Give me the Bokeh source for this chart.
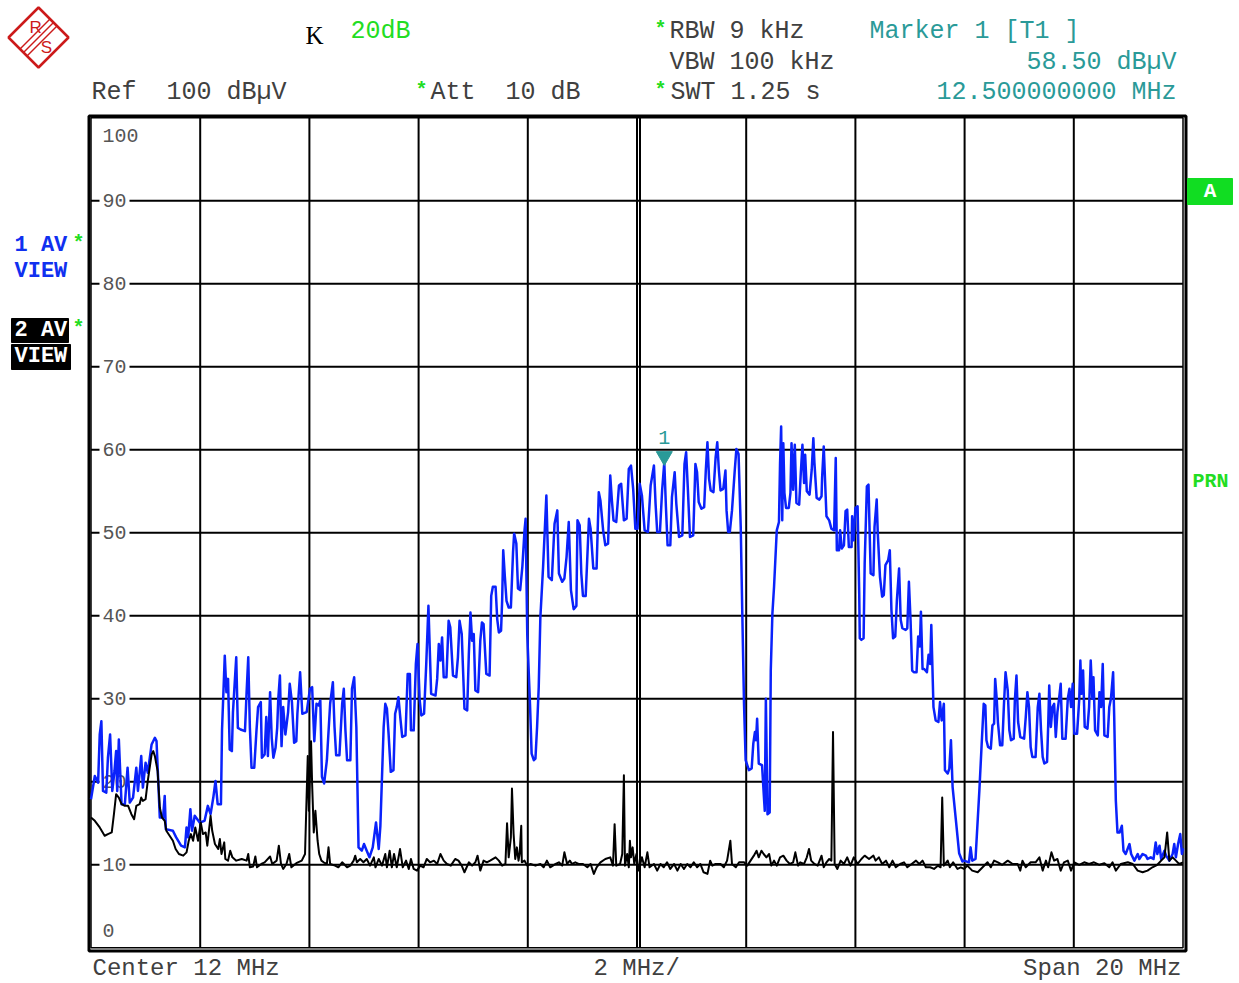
from bokeh.plotting import figure
from bokeh.models import Range1d
from bokeh.core.properties import value
from bokeh.embed import file_html
from bokeh.resources import INLINE

# ---------------- data ----------------
# Trace 1 (blue, AV view), frequency in MHz, level in dBuV
blue_freq_a = [2.00, 2.07, 2.13, 2.16, 2.19, 2.22, 2.28, 2.31, 2.35, 2.39,
               2.43, 2.46, 2.48, 2.51, 2.56, 2.62, 2.67, 2.71, 2.77, 2.83,
               2.86, 2.92, 2.95, 3.00, 3.04, 3.11, 3.17, 3.20, 3.26, 3.32,
               3.35, 3.37, 3.50, 3.56, 3.65, 3.72, 3.75, 3.78, 3.82, 3.85,
               3.90, 3.99, 4.08, 4.14, 4.19, 4.24, 4.28, 4.32, 4.38, 4.40,
               4.45, 4.48, 4.51, 4.54, 4.58, 4.60, 4.66, 4.69, 4.74, 4.82,
               4.85, 4.88, 4.91, 4.94, 4.99, 5.03, 5.06, 5.11, 5.13, 5.18,
               5.21, 5.24, 5.28, 5.31, 5.34, 5.38, 5.41, 5.43, 5.46, 5.49,
               5.52, 5.56, 5.61, 5.64, 5.68, 5.72, 5.76, 5.78, 5.83, 5.87,
               5.95, 6.01, 6.05, 6.09, 6.13, 6.17]
blue_level_a = [17.9, 20.7, 19.9, 25.7, 27.3, 18.9, 18.7, 22.9, 25.7, 18.9,
                21.3, 23.7, 18.9, 25.1, 17.3, 17.3, 21.7, 17.5, 18.1, 21.7,
                18.9, 23.1, 19.3, 22.3, 21.1, 24.5, 25.3, 24.9, 15.7, 15.7,
                18.3, 14.3, 14.1, 13.3, 12.3, 12.1, 14.5, 13.3, 16.7, 14.1,
                15.9, 15.1, 15.3, 17.1, 16.1, 18.1, 20.1, 17.3, 17.3, 26.3,
                35.2, 30.8, 32.4, 23.9, 23.7, 28.4, 35.0, 26.5, 26.3, 26.1,
                30.8, 35.0, 26.5, 21.7, 21.7, 26.1, 29.0, 29.6, 22.9, 23.3,
                27.8, 23.1, 30.8, 25.3, 22.9, 24.1, 26.5, 30.0, 32.8, 24.3,
                29.0, 25.7, 28.4, 31.8, 29.6, 24.7, 24.9, 28.2, 33.2, 28.2,
                28.4, 31.2, 31.4, 24.9, 29.4, 29.2]
blue_freq_b = [6.20, 6.23, 6.27, 6.32, 6.38, 6.43, 6.46, 6.49, 6.55, 6.60,
               6.63, 6.66, 6.69, 6.75, 6.78, 6.82, 6.86, 6.90, 6.96, 7.00,
               7.05, 7.10, 7.16, 7.22, 7.27, 7.30, 7.36, 7.39, 7.42, 7.45,
               7.49, 7.54, 7.57, 7.60, 7.63, 7.67, 7.70, 7.76, 7.80, 7.84,
               7.86, 7.91, 7.95, 7.98, 8.02, 8.05, 8.10, 8.14, 8.18, 8.23,
               8.31, 8.34, 8.37, 8.40, 8.43, 8.46, 8.51, 8.55, 8.58, 8.63,
               8.69, 8.72, 8.75, 8.79, 8.84, 8.89, 8.92, 8.95, 8.98, 9.01,
               9.04, 9.09, 9.13, 9.16, 9.19, 9.24, 9.30, 9.33, 9.36, 9.41,
               9.44, 9.47, 9.51, 9.53, 9.55, 9.58, 9.61, 9.65, 9.69, 9.73,
               9.75, 9.79, 9.82, 9.86, 9.90, 9.94, 9.96, 9.99, 10.04, 10.07,
               10.11, 10.14, 10.17, 10.20, 10.23]
blue_level_b = [29.8, 20.6, 19.8, 22.6, 29.4, 32.0, 26.6, 23.2, 23.2, 29.4,
                31.2, 26.2, 22.6, 22.6, 31.2, 32.6, 26.6, 12.1, 11.7, 12.5,
                11.7, 10.9, 12.1, 15.1, 11.9, 14.7, 26.6, 29.4, 28.8, 25.8,
                21.2, 21.4, 28.2, 29.0, 30.2, 27.4, 25.4, 25.6, 33.0, 33.0,
                26.2, 26.2, 34.2, 36.6, 29.8, 28.0, 28.2, 34.2, 41.2, 30.6,
                30.4, 32.4, 36.6, 34.6, 37.4, 32.6, 32.6, 39.4, 38.6, 32.8,
                32.6, 35.0, 39.4, 37.8, 28.8, 28.6, 35.4, 40.4, 37.0, 37.8,
                31.0, 30.8, 37.0, 39.2, 39.0, 33.0, 32.8, 42.4, 43.5, 43.5,
                39.6, 38.0, 38.2, 41.8, 47.9, 44.7, 41.8, 41.0, 41.0, 47.7,
                49.9, 48.7, 43.3, 43.1, 45.9, 50.3, 51.7, 37.8, 29.4, 23.4,
                22.6, 22.8, 26.6, 31.4, 39.8]
blue_freq_c = [10.28, 10.34, 10.38, 10.44, 10.49, 10.54, 10.57, 10.63, 10.67, 10.71,
               10.75, 10.79, 10.84, 10.89, 10.91, 10.95, 10.98, 11.01, 11.06, 11.12,
               11.15, 11.20, 11.26, 11.30, 11.33, 11.38, 11.42, 11.47, 11.51, 11.54,
               11.57, 11.62, 11.67, 11.71, 11.76, 11.81, 11.85, 11.89, 11.93, 11.97,
               12.01, 12.05, 12.09, 12.14, 12.20, 12.25, 12.31, 12.34, 12.37, 12.42,
               12.46, 12.50, 12.53, 12.56, 12.61, 12.64, 12.69, 12.72, 12.77, 12.83,
               12.87, 12.90, 12.93, 12.97, 13.03, 13.07, 13.10, 13.13, 13.18, 13.23,
               13.26, 13.29, 13.32, 13.35, 13.40, 13.44, 13.47, 13.50, 13.53, 13.58,
               13.62, 13.64, 13.67, 13.70, 13.74, 13.79, 13.82, 13.86, 13.90, 13.93,
               13.96]
blue_level_c = [45.9, 54.5, 44.7, 44.3, 51.1, 52.7, 45.1, 44.1, 44.5, 47.1,
                51.3, 43.1, 40.8, 41.2, 51.5, 50.9, 45.1, 42.4, 42.4, 51.7,
                50.5, 45.7, 45.7, 54.9, 53.9, 50.3, 48.5, 48.7, 56.9, 53.9,
                51.5, 51.3, 55.7, 55.9, 51.5, 51.7, 57.7, 58.1, 55.3, 50.5,
                50.5, 55.9, 54.5, 50.3, 50.1, 55.7, 58.1, 53.5, 50.1, 50.1,
                55.1, 58.5, 53.1, 48.5, 48.5, 54.3, 57.3, 53.5, 49.5, 49.7,
                58.3, 59.7, 55.5, 49.5, 49.7, 58.3, 57.3, 53.7, 52.9, 53.1,
                57.5, 60.9, 56.5, 55.1, 54.9, 59.1, 60.9, 57.5, 55.1, 55.3,
                57.5, 52.7, 50.1, 50.1, 52.7, 57.5, 60.1, 59.5, 50.7, 39.8,
                29.4]
blue_freq_d = [13.99, 14.05, 14.10, 14.13, 14.16, 14.18, 14.20, 14.23, 14.29, 14.34,
               14.36, 14.39, 14.43, 14.45, 14.48, 14.51, 14.56, 14.60, 14.62, 14.64,
               14.66, 14.68, 14.70, 14.73, 14.78, 14.81, 14.83, 14.86, 14.89, 14.92,
               14.97, 15.00, 15.03, 15.06, 15.08, 15.11, 15.16, 15.20, 15.23, 15.25,
               15.29, 15.34, 15.38, 15.39, 15.42, 15.47, 15.52, 15.56, 15.61, 15.64,
               15.66, 15.70, 15.72, 15.75, 15.79, 15.82, 15.85, 15.88, 15.93, 15.94,
               15.97, 16.00, 16.04, 16.07, 16.08, 16.11, 16.15, 16.17, 16.21, 16.24,
               16.26, 16.28, 16.33, 16.35, 16.39, 16.41, 16.45, 16.49, 16.52, 16.55,
               16.60, 16.63, 16.66, 16.69, 16.73, 16.76, 16.80, 16.83, 16.86, 16.92,
               16.95, 16.98, 17.01, 17.04, 17.07, 17.12, 17.15, 17.18, 17.20, 17.23,
               17.26, 17.31, 17.34, 17.37, 17.39, 17.43, 17.47, 17.52, 17.55, 17.58,
               17.62, 17.64, 17.69, 17.72, 17.75, 17.78, 17.84, 17.90, 17.96]
blue_level_d = [22.6, 21.4, 21.6, 24.6, 26.0, 25.0, 27.6, 22.2, 22.0, 16.5,
                30.0, 16.1, 16.3, 33.4, 40.3, 43.5, 50.3, 51.3, 58.4, 62.8,
                51.5, 60.8, 54.8, 53.0, 53.0, 54.8, 60.8, 55.2, 60.6, 53.6,
                53.4, 57.2, 60.6, 56.0, 59.4, 55.0, 54.6, 57.6, 61.4, 58.4,
                54.2, 54.0, 54.4, 56.6, 60.4, 52.0, 51.5, 50.5, 50.3, 59.0,
                47.9, 47.9, 50.3, 48.1, 48.5, 52.6, 52.8, 48.3, 48.3, 52.0,
                49.1, 53.0, 53.2, 42.7, 37.3, 37.1, 37.3, 46.3, 55.6, 55.8,
                50.3, 45.1, 44.9, 50.7, 54.0, 49.9, 44.7, 42.3, 42.5, 46.1,
                46.7, 47.9, 40.7, 37.3, 37.5, 41.9, 45.7, 39.5, 38.5, 38.3,
                38.5, 44.1, 39.5, 33.4, 33.2, 33.2, 37.5, 36.3, 40.5, 33.6,
                33.6, 33.2, 35.3, 34.2, 38.9, 29.0, 27.4, 27.2, 29.6, 27.4,
                29.4, 21.4, 21.0, 21.6, 25.0, 19.4, 15.4, 11.4, 10.4]
blue_freq_e = [17.99, 18.08, 18.11, 18.14, 18.20, 18.27, 18.31, 18.35, 18.38, 18.40,
               18.43, 18.48, 18.51, 18.54, 18.56, 18.59, 18.61, 18.65, 18.69, 18.72,
               18.75, 18.79, 18.82, 18.85, 18.90, 18.92, 18.95, 18.98, 19.02, 19.09,
               19.12, 19.15, 19.18, 19.21, 19.24, 19.30, 19.34, 19.37, 19.40, 19.43,
               19.46, 19.51, 19.53, 19.55, 19.58, 19.61, 19.64, 19.67, 19.70, 19.73,
               19.76, 19.79, 19.85, 19.89, 19.92, 19.95, 19.98, 20.01, 20.06, 20.10,
               20.12, 20.14, 20.17, 20.20, 20.25, 20.28, 20.31, 20.34, 20.36, 20.39,
               20.44, 20.47, 20.50, 20.53, 20.56, 20.62, 20.65, 20.68, 20.72, 20.74,
               20.77, 20.80, 20.84, 20.88, 20.91, 20.95, 21.02, 21.05, 21.11, 21.17,
               21.20, 21.26, 21.32, 21.35, 21.41, 21.46, 21.50, 21.53, 21.57, 21.60,
               21.66, 21.69, 21.75, 21.81, 21.84, 21.87, 21.91, 21.95, 21.98, 22.00]
blue_level_e = [10.5, 10.3, 12.1, 10.5, 10.7, 18.9, 24.2, 29.4, 29.2, 25.0,
                24.2, 24.0, 26.8, 27.0, 32.4, 29.8, 27.2, 24.4, 24.4, 29.2,
                33.2, 31.0, 26.2, 25.0, 25.2, 29.8, 32.8, 27.2, 25.4, 25.2,
                27.8, 30.8, 29.0, 24.2, 23.0, 23.0, 29.0, 30.6, 26.2, 23.0,
                22.2, 22.4, 26.6, 31.6, 26.6, 29.0, 29.4, 25.4, 28.4, 30.0,
                31.8, 25.2, 25.2, 30.0, 31.2, 29.0, 31.8, 25.8, 25.8, 30.0,
                34.6, 30.6, 33.4, 26.6, 26.4, 29.0, 34.6, 30.0, 32.6, 26.2,
                25.6, 30.8, 29.0, 34.2, 25.6, 25.4, 29.0, 30.0, 33.2, 27.8,
                17.7, 13.9, 13.9, 14.7, 11.7, 11.3, 12.5, 11.3, 10.5, 11.3,
                10.7, 11.3, 11.1, 10.7, 10.9, 10.7, 12.7, 11.3, 12.3, 10.7,
                11.7, 11.1, 10.5, 11.3, 12.5, 10.9, 12.5, 13.7, 11.3, 12.0]

# Trace 2 (black, AV view)
black_freq_a = [2.00, 2.07, 2.16, 2.25, 2.31, 2.38, 2.42, 2.46, 2.51, 2.56,
                2.62, 2.68, 2.74, 2.79, 2.83, 2.89, 2.92, 2.95, 3.00, 3.04,
                3.11, 3.14, 3.17, 3.22, 3.26, 3.30, 3.35, 3.38, 3.44, 3.50,
                3.55, 3.61, 3.69, 3.75, 3.79, 3.83, 3.87, 3.91, 3.96, 4.01,
                4.05, 4.10, 4.13, 4.19, 4.22, 4.27, 4.33, 4.36, 4.39, 4.44,
                4.46, 4.51, 4.55, 4.59, 4.66, 4.76, 4.85, 4.88, 4.91, 4.97,
                5.01, 5.04, 5.12, 5.18, 5.28, 5.32, 5.40, 5.44, 5.48, 5.52,
                5.58, 5.63, 5.67, 5.76, 5.86, 5.92, 5.95, 5.97, 5.99, 6.03,
                6.05, 6.08, 6.11, 6.15, 6.18, 6.22]
black_level_a = [15.7, 15.3, 14.5, 13.5, 13.7, 13.9, 16.1, 18.5, 18.1, 17.3,
                 17.1, 17.1, 16.1, 15.5, 17.1, 17.3, 18.1, 17.7, 17.9, 20.1,
                 23.3, 23.7, 23.1, 21.3, 16.9, 15.7, 15.3, 14.1, 13.5, 12.9,
                 11.9, 11.3, 11.1, 11.5, 12.9, 13.7, 12.9, 14.5, 12.9, 15.1,
                 13.7, 13.9, 12.3, 15.9, 14.1, 12.5, 11.9, 13.1, 11.3, 12.7,
                 10.7, 10.5, 11.7, 10.9, 10.5, 10.7, 10.5, 11.3, 9.7, 9.8,
                 11.0, 9.7, 10.1, 10.3, 11.0, 10.1, 10.5, 12.3, 10.1, 9.5,
                 10.1, 11.3, 9.7, 10.2, 10.5, 11.3, 18.5, 23.1, 16.5, 24.9,
                 19.7, 13.9, 16.5, 12.9, 11.3, 10.5]
black_freq_b = [6.26, 6.32, 6.35, 6.38, 6.47, 6.53, 6.60, 6.69, 6.75, 6.81,
                6.84, 6.87, 6.93, 6.99, 7.05, 7.11, 7.18, 7.21, 7.27, 7.33,
                7.39, 7.42, 7.47, 7.51, 7.55, 7.60, 7.66, 7.71, 7.77, 7.82,
                7.86, 7.91, 7.97, 8.03, 8.09, 8.15, 8.21, 8.28, 8.34, 8.40,
                8.46, 8.52, 8.59, 8.67, 8.73, 8.79, 8.84, 8.92, 8.98, 9.04,
                9.08, 9.13, 9.19, 9.25, 9.31, 9.41, 9.47, 9.53, 9.59, 9.62,
                9.65, 9.69, 9.71, 9.74, 9.77, 9.80, 9.83, 9.85, 9.88, 9.89,
                9.94, 9.99, 10.05, 10.14]
black_level_b = [10.3, 10.1, 12.1, 10.1, 9.9, 9.7, 10.3, 9.7, 9.9, 10.5,
                 11.1, 10.3, 10.7, 10.3, 10.7, 9.9, 10.9, 9.7, 10.7, 9.9,
                 11.3, 9.7, 11.7, 9.7, 11.3, 9.7, 11.9, 9.7, 10.5, 9.5,
                 10.7, 9.5, 9.3, 9.9, 9.7, 10.7, 10.3, 10.5, 10.1, 11.3,
                 10.5, 10.1, 9.9, 10.7, 10.5, 9.9, 9.1, 10.3, 9.9, 10.3,
                 11.1, 9.3, 10.5, 10.3, 10.5, 10.9, 10.5, 9.9, 10.1, 15.0,
                 10.9, 13.3, 19.2, 13.7, 10.7, 12.1, 10.5, 11.3, 14.7, 10.3,
                 10.5, 9.9, 10.1, 9.9]
black_freq_c = [10.23, 10.29, 10.35, 10.41, 10.51, 10.57, 10.63, 10.67, 10.72, 10.77,
                10.81, 10.87, 10.93, 11.01, 11.09, 11.15, 11.21, 11.26, 11.33, 11.42,
                11.51, 11.56, 11.59, 11.62, 11.69, 11.73, 11.76, 11.78, 11.82, 11.85,
                11.87, 11.89, 11.92, 11.95, 11.99, 12.03, 12.09, 12.14, 12.19, 12.23,
                12.31, 12.37, 12.43, 12.49, 12.55, 12.61, 12.68, 12.74, 12.80, 12.86,
                12.92, 12.98, 13.04, 13.10, 13.16, 13.22, 13.29, 13.34, 13.38, 13.44,
                13.53, 13.59, 13.65, 13.71, 13.74, 13.81, 13.87]
black_level_c = [10.1, 9.7, 10.5, 9.7, 10.1, 10.3, 9.9, 11.5, 10.1, 10.5,
                 10.1, 10.3, 10.1, 10.1, 9.7, 10.1, 8.9, 9.7, 10.3, 10.7,
                 10.9, 9.9, 14.9, 9.9, 10.1, 11.3, 20.8, 9.9, 11.3, 9.7,
                 12.9, 10.9, 12.1, 10.1, 11.3, 9.3, 10.9, 9.7, 11.5, 9.7,
                 10.1, 9.3, 10.1, 9.7, 10.3, 9.5, 10.1, 9.3, 10.1, 9.5,
                 10.1, 9.7, 10.3, 9.7, 10.1, 9.1, 8.9, 10.5, 9.9, 10.1,
                 10.1, 9.7, 10.5, 12.9, 10.1, 9.7, 10.3]
black_freq_d = [13.96, 14.02, 14.08, 14.14, 14.19, 14.23, 14.28, 14.32, 14.37, 14.42,
                14.46, 14.51, 14.56, 14.62, 14.68, 14.74, 14.80, 14.86, 14.90, 14.95,
                14.99, 15.06, 15.11, 15.15, 15.19, 15.25, 15.31, 15.38, 15.42, 15.47,
                15.52, 15.56, 15.59, 15.62, 15.67, 15.73, 15.79, 15.85, 15.91, 15.97,
                16.04, 16.11, 16.17, 16.25, 16.33, 16.37, 16.43, 16.49, 16.56, 16.62,
                16.68, 16.74, 16.82, 16.89, 16.95, 17.03, 17.11, 17.17, 17.23, 17.29,
                17.37, 17.44, 17.51, 17.56, 17.59, 17.62, 17.69, 17.73, 17.79, 17.87]
black_level_d = [10.3, 9.9, 10.5, 11.1, 11.7, 10.9, 11.7, 11.3, 10.9, 11.3,
                 9.9, 10.5, 9.9, 10.9, 11.1, 10.5, 10.1, 10.3, 11.5, 9.9,
                 10.3, 10.1, 10.9, 11.9, 10.5, 10.1, 9.9, 11.1, 9.7, 10.3,
                 10.7, 10.5, 26.0, 10.1, 9.5, 10.5, 10.1, 10.9, 9.9, 10.9,
                 10.1, 10.7, 11.1, 10.7, 11.1, 10.5, 10.9, 10.1, 10.5, 9.7,
                 10.5, 9.7, 10.1, 10.3, 9.7, 10.1, 10.5, 10.1, 10.5, 9.7,
                 9.7, 9.5, 9.9, 9.7, 18.1, 9.9, 10.5, 9.7, 10.3, 9.5]
black_freq_e = [17.93, 17.99, 18.05, 18.14, 18.24, 18.33, 18.42, 18.48, 18.54, 18.61,
                18.69, 18.79, 18.88, 18.97, 19.02, 19.06, 19.12, 19.21, 19.30, 19.37,
                19.43, 19.49, 19.53, 19.59, 19.64, 19.70, 19.76, 19.82, 19.89, 19.95,
                20.01, 20.10, 20.19, 20.28, 20.37, 20.47, 20.56, 20.65, 20.71, 20.77,
                20.86, 20.99, 21.08, 21.17, 21.26, 21.35, 21.44, 21.53, 21.60, 21.66,
                21.71, 21.75, 21.81, 21.87, 21.93, 22.00]
black_level_e = [9.7, 9.5, 9.9, 9.3, 9.1, 9.7, 10.3, 9.7, 10.5, 10.3,
                 10.0, 10.5, 10.1, 10.1, 9.3, 10.5, 9.7, 10.3, 10.3, 10.9,
                 9.3, 10.5, 9.7, 11.5, 10.5, 10.7, 9.3, 10.3, 10.5, 9.3,
                 10.3, 10.0, 10.3, 10.1, 10.3, 10.0, 10.2, 9.7, 10.3, 9.3,
                 10.1, 10.3, 10.1, 9.3, 9.1, 9.3, 9.7, 10.0, 10.5, 10.9,
                 13.9, 10.5, 10.9, 10.5, 10.1, 10.3]

marker_freq = 12.5
marker_level = 58.5
marker_label = "1"

x_grid_mhz = [4, 6, 8, 10, 12, 14, 16, 18, 20]
y_grid_db = [10, 20, 30, 40, 50, 60, 70, 80, 90]
y_tick_values = [100, 90, 80, 70, 60, 50, 40, 30, 20, 10, 0]
y_tick_labels = ["100", "90", "80", "70", "60", "50", "40", "30", "20", "10", "0"]
x_start_mhz, x_stop_mhz = 2, 22
y_bottom_db, y_top_db = 0, 100

blue_freq = blue_freq_a + blue_freq_b + blue_freq_c + blue_freq_d + blue_freq_e
blue_level = blue_level_a + blue_level_b + blue_level_c + blue_level_d + blue_level_e
black_freq = black_freq_a + black_freq_b + black_freq_c + black_freq_d + black_freq_e
black_level = black_level_a + black_level_b + black_level_c + black_level_d + black_level_e

# ---------------- layout (reference page pixels) ----------------
PAGE_OFF = 0
W, H = 1238, 982
X2_PX, PX_PER_MHZ = 90.5, 54.6     # page x of 2 MHz, px per MHz
Y0_PX, PX_PER_DB = 947.3, 8.3      # page y of 0 dBuV, px per dB


def fx(px):
    return x_start_mhz + (px - X2_PX) / PX_PER_MHZ


def ly(py):
    return (Y0_PX - py) / PX_PER_DB


p = figure(width=W, height=H,
           x_range=Range1d(fx(PAGE_OFF), fx(PAGE_OFF + W)),
           y_range=Range1d(ly(PAGE_OFF + H), ly(PAGE_OFF)),
           output_backend="svg", toolbar_location=None,
           x_axis_location=None, y_axis_location=None,
           min_border=0, outline_line_color=None,
           background_fill_color="white", border_fill_color="white")
p.grid.visible = False

MONO = "Liberation Mono"
GREY = "#404040"
TEAL = "#2a9a98"
GREEN = "#22dd22"
BLUE = "#0a22fb"
NB = "\u00a0"


def txt(px, py, s, color=GREY, size=25, font=MONO, style="normal",
        align="left", baseline="middle"):
    p.text(x=[fx(px)], y=[ly(py)], text=[s], text_color=color,
           text_font=value(font), text_font_size=f"{size}px",
           text_font_style=style, text_align=align, text_baseline=baseline)


# grid
p.segment(x0=x_grid_mhz, y0=[y_bottom_db] * len(x_grid_mhz),
          x1=x_grid_mhz, y1=[y_top_db] * len(x_grid_mhz),
          line_color="black", line_width=2)
p.segment(x0=[fx(639.5)], y0=[y_bottom_db], x1=[fx(639.5)], y1=[y_top_db],
          line_color="black", line_width=2)
p.segment(x0=[x_start_mhz] * len(y_grid_db), y0=y_grid_db,
          x1=[x_stop_mhz] * len(y_grid_db), y1=y_grid_db,
          line_color="black", line_width=2)

# double frame
p.quad(left=[x_start_mhz], right=[x_stop_mhz], bottom=[y_bottom_db], top=[y_top_db],
       fill_color=None, line_color="black", line_width=1.5)
p.quad(left=[fx(88.5)], right=[fx(1185.5)], bottom=[ly(950.5)], top=[ly(115.5)],
       fill_color=None, line_color="black", line_width=3)

# y tick labels inside the frame
offs = [17.7] + [0] * 9 + [-17.3]
tick_kw = dict(x=[x_start_mhz] * len(y_tick_values), y=y_tick_values,
               text=y_tick_labels, x_offset=8.5, y_offset=offs,
               text_color="#555555", text_font=value(MONO), text_font_size="20px",
               text_align="left", text_baseline="middle")
try:
    p.text(background_fill_color="white", padding=3, **tick_kw)
except Exception:
    p.text(**tick_kw)

# traces
p.line(blue_freq, blue_level, line_color=BLUE, line_width=2.5, line_join="round")
p.line(black_freq, black_level, line_color="black", line_width=2, line_join="round")

# marker 1
p.scatter([marker_freq], [marker_level + 6.0 / PX_PER_DB], marker="inverted_triangle",
          size=16, fill_color=TEAL, line_color=TEAL)
p.text(x=[marker_freq], y=[marker_level], text=[marker_label], y_offset=-25,
       text_color=TEAL, text_font=value(MONO), text_font_size="20px",
       text_align="center", text_baseline="middle")

# header
txt(305, 35, "K", color="black", size=25, font="Liberation Serif")
txt(350, 31, "20dB", color=GREEN)
txt(654, 29, "*", color=GREEN, size=20, style="bold")
txt(669, 31, "RBW 9 kHz")
txt(869, 31, "Marker 1 [T1 ]", color=TEAL)
txt(669, 62, "VBW 100 kHz")
txt(1176, 62, "58.50 dBµV", color=TEAL, align="right")
txt(91, 92, "Ref" + NB + NB + "100 dBµV")
txt(415, 90, "*", color=GREEN, size=20, style="bold")
txt(430, 92, "Att" + NB + NB + "10 dB")
txt(654, 90, "*", color=GREEN, size=20, style="bold")
txt(670, 92, "SWT 1.25 s")
txt(1176, 92, "12.500000000 MHz", color=TEAL, align="right")

# left trace labels
txt(14, 245, "1 AV", color="#1030f0", size=22, style="bold")
txt(72, 243, "*", color=GREEN, size=20, style="bold")
txt(14, 271, "VIEW", color="#1030f0", size=22, style="bold")
p.quad(left=[fx(11)], right=[fx(68)], top=[ly(318)], bottom=[ly(342)], color="black")
p.quad(left=[fx(11)], right=[fx(70)], top=[ly(344)], bottom=[ly(369)], color="black")
txt(14, 330, "2 AV", color="white", size=22, style="bold")
txt(72, 328, "*", color=GREEN, size=20, style="bold")
txt(14, 356, "VIEW", color="white", size=22, style="bold")

# right side labels
p.quad(left=[fx(1187)], right=[fx(1232)], top=[ly(178)], bottom=[ly(204)], color="#11dd22")
txt(1209.5, 191, "A", color="white", size=21, style="bold", align="center")
txt(1210, 481, "PRN", color=GREEN, size=20, style="bold", align="center")

# bottom
txt(92, 968, "Center 12 MHz", size=24)
txt(593, 968, "2 MHz/", size=24)
txt(1181, 968, "Span 20 MHz", size=24, align="right")

# R&S logo
RED = "#cc1a1a"
cx, cy, r = 38, 37, 30
p.patch(x=[fx(cx), fx(cx + r), fx(cx), fx(cx - r)],
        y=[ly(cy - r), ly(cy), ly(cy + r), ly(cy)],
        fill_color=None, line_color=RED, line_width=2.5)
for d in (-3.5, 0, 3.5):
    p.line(x=[fx(cx - 15 + d), fx(cx + 15 + d)], y=[ly(cy + 15 + d), ly(cy - 15 + d)],
           line_color=RED, line_width=1.5)
txt(29, 27, "R", color=RED, size=17, font="Liberation Sans")
txt(46, 47, "S", color=RED, size=17, font="Liberation Sans", align="center")

open("out.html", "w", encoding="utf-8").write(file_html(p, INLINE))
